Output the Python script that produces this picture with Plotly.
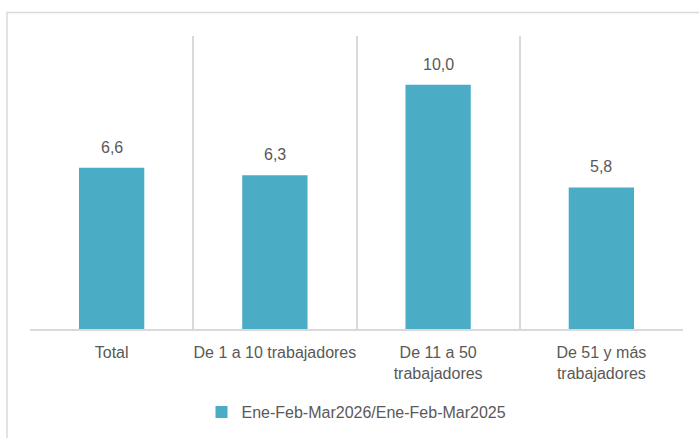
import plotly.graph_objects as go

categories = ["Total", "De 1 a 10 trabajadores", "De 11 a 50<br>trabajadores", "De 51 y más<br>trabajadores"]
values = [6.6, 6.3, 10.0, 5.8]
series_name = "Ene-Feb-Mar2026/Ene-Feb-Mar2025"

FONT = "Liberation Sans Narrow, Arial Narrow, Liberation Sans, Arial, sans-serif"
FS = 16
TXT = "#595959"
GRID = "#D9D9D9"
BAR = "#4BACC6"

fig = go.Figure()
fig.add_trace(go.Bar(
    x=categories, y=values, name=series_name,
    marker=dict(color=BAR, line=dict(width=0)),
    showlegend=True,
))

for c, v in zip(categories, values):
    fig.add_annotation(x=c, y=v, text=f"{v:.1f}".replace(".", ","),
                       showarrow=False, yanchor="bottom", yshift=10,
                       font=dict(family=FONT, size=FS, color=TXT))

W, H = 699, 438
L, R, T, B = 30, 16, 36, 109
pw, ph = W - L - R, H - T - B

def px_to_paper_x(px):
    return (px - L) / pw

def px_to_paper_y(py):
    return (H - B - py) / ph

fig.add_shape(type="rect", xref="paper", yref="paper",
              x0=px_to_paper_x(7), x1=px_to_paper_x(720),
              y0=px_to_paper_y(460), y1=px_to_paper_y(12.5),
              line=dict(color=GRID, width=1.5), fillcolor="rgba(0,0,0,0)", layer="below")

fig.update_layout(
    width=W, height=H,
    margin=dict(l=L, r=R, t=T, b=B, autoexpand=False),
    paper_bgcolor="white", plot_bgcolor="white",
    bargap=0.6,
    separators=",.",
    font=dict(family=FONT, size=FS, color=TXT),
    xaxis=dict(type="category", tickson="boundaries", showgrid=True, gridcolor=GRID, gridwidth=1.5,
               showline=True, linecolor=GRID, linewidth=1.5, ticks="", ticklabelstandoff=8,
               tickangle=0, automargin=False,
               tickfont=dict(family=FONT, size=FS, color=TXT), zeroline=False),
    yaxis=dict(range=[0, 12], visible=False, showgrid=False, zeroline=False),
    legend=dict(orientation="h", x=0.5, xanchor="center", y=px_to_paper_y(412), yanchor="middle",
                font=dict(family=FONT, size=FS, color=TXT), itemwidth=30, tracegroupgap=0),
)

fig.write_html("out.html", config={"displayModeBar": False},
               post_script="document.body.style.margin='0';")
